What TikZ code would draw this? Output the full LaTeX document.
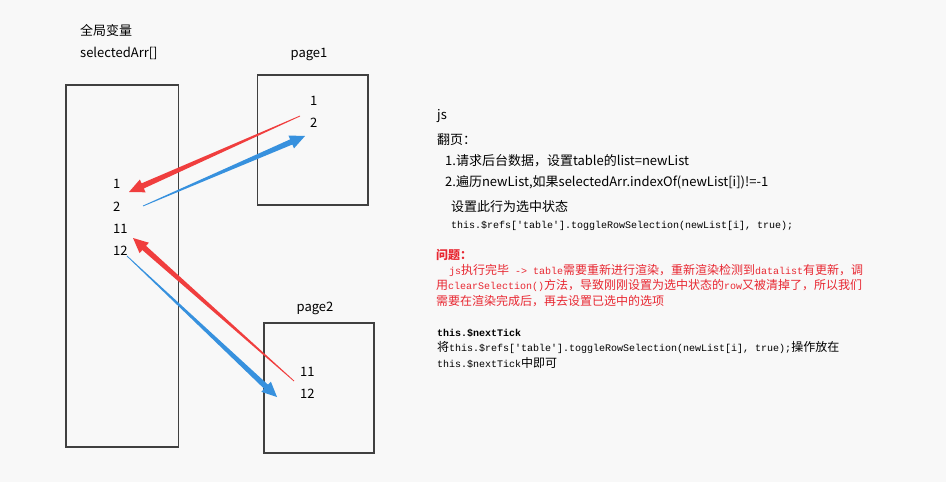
\documentclass[tikz,border=0pt]{standalone}
\usepackage{fontspec}
\setmainfont{Noto Sans CJK SC}
\setmonofont{Liberation Mono}
\usetikzlibrary{calc}
\definecolor{bg}{RGB}{248,248,248}
\definecolor{arrred}{RGB}{240,62,62}
\definecolor{arrblue}{RGB}{55,145,222}
\definecolor{txtred}{RGB}{232,40,50}
\definecolor{boxline}{RGB}{64,64,64}
\newcommand\mo[1]{{\ttfamily\fontsize{10}{12}\selectfont #1}}
\newcommand\mob[1]{{\ttfamily\bfseries\fontsize{10}{12}\selectfont #1}}
\newcommand\cjkt[1]{{\fontsize{12}{14}\selectfont #1}}
% tapered arrow: color, tail, tip, tail half width, shaft half width, head half width, head length
\newcommand\taper[7]{%
  \coordinate (tpB) at ($(#3)!#7!(#2)$);
  \fill[#1] ($(#2)!#4!90:(#3)$) -- ($(tpB)!#5!-90:(#2)$) -- ($(tpB)!#6!-90:(#2)$)
    -- (#3) -- ($(tpB)!#6!90:(#2)$) -- ($(tpB)!#5!90:(#2)$) -- ($(#2)!#4!-90:(#3)$) -- cycle;
}
\begin{document}
\begin{tikzpicture}[x=1pt,y=-1pt,
  txt/.style={inner sep=0pt,anchor=base west,font=\fontsize{13}{15}\selectfont},
  txtc/.style={inner sep=0pt,anchor=base,font=\fontsize{13}{15}\selectfont},
  boxr/.style={draw=boxline,line width=1.1pt}]
\fill[bg] (0,0) rectangle (946,482);
\useasboundingbox (0,0) rectangle (946,482);

% left panel
\node[txt] (title) at (80,35) {全局变量};
\node[txt] (arr) at (80,57.5) {selectedArr[]};
\draw[boxr] (66,85) rectangle (178.5,447);
\node[txt] (l1) at (113,188) {1};
\node[txt] (l2) at (113,211) {2};
\node[txt] (l11) at (113,233) {11};
\node[txt] (l12) at (113,255) {12};

% page1
\node[txtc] (p1lab) at (309,57.5) {page1};
\draw[boxr] (257.5,75) rectangle (368,205);
\node[txt] (p1a) at (310,105) {1};
\node[txt] (p1b) at (310,127) {2};

% page2
\node[txtc] (p2lab) at (315,311.5) {page2};
\draw[boxr] (264,323) rectangle (374,453);
\node[txt] (p2a) at (300,376) {11};
\node[txt] (p2b) at (300,398) {12};

% arrow ends
\coordinate (r1t) at (300,116);
\coordinate (r1h) at (129,192);
\coordinate (b1t) at (143,206);
\coordinate (b1h) at (305,136);
\coordinate (r2t) at (294,381);
\coordinate (r2h) at (133,238);
\coordinate (b2t) at (127,256);
\coordinate (b2h) at (277,397);

\taper{arrred}{r1t}{r1h}{0.4pt}{2.8pt}{7pt}{15pt}
\taper{arrblue}{b1t}{b1h}{0.4pt}{2.8pt}{7pt}{15pt}
\taper{arrred}{r2t}{r2h}{0.4pt}{2.8pt}{7pt}{15pt}
\taper{arrblue}{b2t}{b2h}{0.4pt}{2.8pt}{7pt}{15pt}

% right text
\node[txt] (js) at (437,119) {js};
\node[txt] (fy) at (437,144) {翻页：};
\node[txt] (s1) at (445,165) {1.请求后台数据，设置table的list=newList};
\node[txt] (s2) at (445,186) {2.遍历newList,如果selectedArr.indexOf(newList[i])!=-1};
\node[txt] (s3) at (451,211) {设置此行为选中状态};
\node[txt] (s4) at (451,228) {\mo{this.\$refs['table'].toggleRowSelection(newList[i],~true);}};

\node[txt,text=txtred,font=\fontsize{12}{14}\selectfont\bfseries] (q) at (436,259) {问题：};
\node[txt,text=txtred,font=\fontsize{12}{14}\selectfont] (q1) at (449,274) {\mo{js}执行完毕\mo{~->~table}需要重新进行渲染，重新渲染检测到\mo{datalist}有更新，调};
\node[txt,text=txtred,font=\fontsize{12}{14}\selectfont] (q2) at (436,289) {用\mo{clearSelection()}方法，导致刚刚设置为选中状态的\mo{row}又被清掉了，所以我们};
\node[txt,text=txtred,font=\fontsize{12}{14}\selectfont] (q3) at (436,305) {需要在渲染完成后，再去设置已选中的选项};

\node[txt] (n1) at (437,336) {\mob{this.\$nextTick}};
\node[txt,font=\fontsize{12}{14}\selectfont] (n2) at (437,351) {将\mo{this.\$refs['table'].toggleRowSelection(newList[i],~true);}操作放在};
\node[txt,font=\fontsize{12}{14}\selectfont] (n3) at (437,367) {\mo{this.\$nextTick}中即可};
\end{tikzpicture}
\end{document}
